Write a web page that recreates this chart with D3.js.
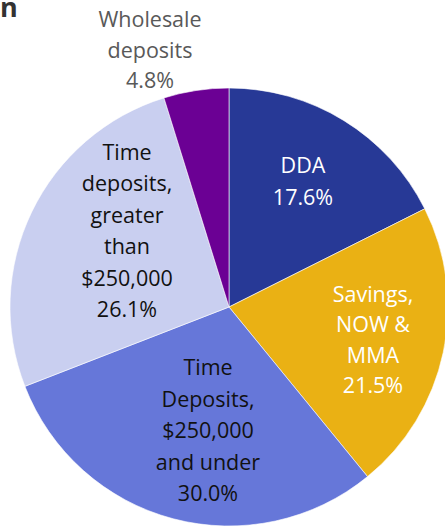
<!DOCTYPE html>
<html><head><meta charset="utf-8">
<script src="https://cdn.jsdelivr.net/npm/d3@7"></script>
<style>html,body{margin:0;padding:0;background:#fff;overflow:hidden}</style>
</head><body>
<svg id="c" width="445" height="528"></svg>
<script>
const categories = ["DDA", "Savings, NOW & MMA", "Time Deposits, $250,000 and under", "Time deposits, greater than $250,000", "Wholesale deposits"];
const values = [17.6, 21.5, 30.0, 26.1, 4.8];
const labelLines = [["DDA"], ["Savings,", "NOW &", "MMA"], ["Time", "Deposits,", "$250,000", "and under"], ["Time", "deposits,", "greater", "than", "$250,000"], ["Wholesale", "deposits"]];
const colors = ["#273996", "#EAB114", "#6677D9", "#C9CFF0", "#6B0094"];
const textColors = ["#ffffff", "#ffffff", "#111111", "#111111", "#595959"];

const svg = d3.select("#c");
const cx = 229, cy = 307, r = 219;
const pie = d3.pie().sort(null).value(d => d)(values);
const arc = d3.arc().innerRadius(0).outerRadius(r);
const g = svg.append("g").attr("transform", `translate(${cx},${cy})`);
g.selectAll("path").data(pie).join("path")
  .attr("d", arc).attr("fill", (d, i) => colors[i])
  .attr("stroke", "#fff").attr("stroke-width", 0.6);

// label anchor positions (centre x, first baseline y) relative to page
const labelPos = [[303, 173], [373, 302], [208, 375], [127, 160], [150, 27]];
const pitch = [32, 30.4, 31.5, 31.4, 30.5];
labelPos.forEach((p, i) => {
  const lines = labelLines[i].concat([values[i].toFixed(1) + "%"]);
  const t = svg.append("text").attr("text-anchor", "middle")
    .attr("font-family", "'Open Sans', sans-serif").attr("font-size", 21.5)
    .attr("fill", textColors[i]);
  lines.forEach((l, j) => t.append("tspan").attr("x", p[0]).attr("y", p[1] + j * pitch[i]).text(l));
});
svg.append("text").attr("x", 0).attr("y", 17).attr("text-anchor", "start")
  .attr("font-family", "'Open Sans', sans-serif").attr("font-weight", "bold").attr("font-size", 27)
  .attr("fill", "#333").text("n");
</script>
</body></html>
